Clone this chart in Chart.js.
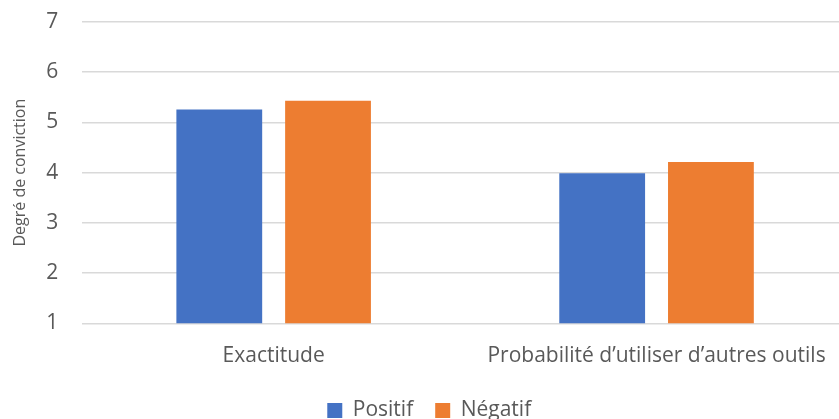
<!DOCTYPE html>
<html>
<head>
<meta charset="utf-8">
<script src="https://cdn.jsdelivr.net/npm/chart.js@4/dist/chart.umd.min.js"></script>
<style>
  html, body { margin: 0; padding: 0; background: #fff; overflow: hidden; }
  #wrap { width: 839px; height: 419px; overflow: hidden; }
  #box { width: 850px; height: 431px; }
</style>
</head>
<body>
<div id="wrap"><div id="box"><canvas id="bar-chart"></canvas></div></div>
<script>
var categories = ["Exactitude", "Probabilité d\u2019utiliser d\u2019autres outils"];
var positif = [5.26, 3.99];
var negatif = [5.43, 4.21];
var yTicks = [1, 2, 3, 4, 5, 6, 7];

var txt = '#595959';
var fam = '"Open Sans", sans-serif';

new Chart(document.getElementById("bar-chart"), {
  type: 'bar',
  data: {
    labels: categories,
    datasets: [
      {
        label: "Positif",
        backgroundColor: '#4472C4',
        data: positif
      },
      {
        label: "Négatif",
        backgroundColor: '#ED7D31',
        data: negatif
      }
    ]
  },
  options: {
    responsive: true,
    maintainAspectRatio: false,
    animation: false,
    categoryPercentage: 0.568,
    barPercentage: 0.789,
    layout: { padding: { top: 22, left: 10.5, right: 2, bottom: 0 } },
    plugins: {
      tooltip: { enabled: false },
      legend: {
        position: 'bottom',
        labels: {
          color: txt,
          font: { family: fam, size: 21 },
          boxWidth: 15,
          boxHeight: 15,
          padding: 22
        }
      }
    },
    scales: {
      x: {
        grid: { display: false },
        border: { display: false },
        ticks: { color: txt, font: { family: fam, size: 21 }, padding: 12 },
        // keep the gap between axis labels and legend like the original
        afterFit: function(axis) { axis.height = 54.7; }
      },
      y: {
        min: 1,
        max: 7,
        afterBuildTicks: function(axis) {
          axis.ticks = yTicks.map(function(v) { return { value: v }; });
        },
        grid: { color: '#D9D9D9', lineWidth: 1.5, drawTicks: true, tickLength: 18, tickColor: 'rgba(0,0,0,0)' },
        border: { display: false },
        ticks: { color: txt, font: { family: fam, size: 21 }, padding: 6 },
        title: {
          display: true,
          text: 'Degré de conviction',
          color: txt,
          font: { family: fam, size: 16 },
          padding: { top: 0, bottom: 10.5 }
        }
      }
    }
  }
});
</script>
</body>
</html>
